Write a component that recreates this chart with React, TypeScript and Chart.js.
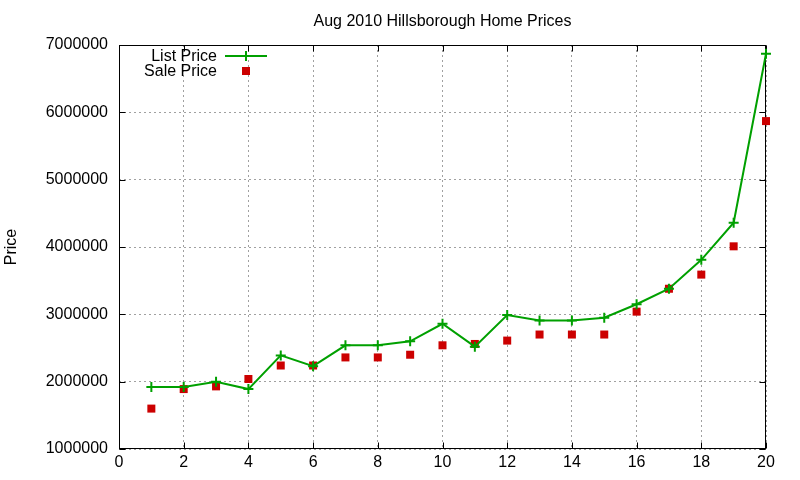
import { useEffect, useRef } from "react";
import { Chart, registerables } from "chart.js";

Chart.register(...registerables);

const chartTitle = "Aug 2010 Hillsborough Home Prices";
const yAxisTitle = "Price";
const xValues = [1, 2, 3, 4, 5, 6, 7, 8, 9, 10, 11, 12, 13, 14, 15, 16, 17, 18, 19, 20];
const listPrice = [
  1920000, 1920000, 2000000, 1890000, 2390000, 2230000, 2540000, 2540000, 2600000, 2860000,
  2520000, 2990000, 2910000, 2910000, 2950000, 3150000, 3380000, 3810000, 4360000, 6870000,
];
const salePrice = [
  1600000, 1890000, 1930000, 2040000, 2240000, 2240000, 2360000, 2360000, 2400000, 2540000,
  2560000, 2610000, 2700000, 2700000, 2700000, 3040000, 3380000, 3590000, 4010000, 5870000,
];
const xMin = 0;
const xMax = 20;
const xStep = 2;
const yMin = 1000000;
const yMax = 7000000;
const yStep = 1000000;

const FONT = "'Liberation Sans', Arial, sans-serif";
const GREEN = "#00a000";
const RED = "#cc0000";

const framePlugin = {
  id: "frame",
  beforeDatasetsDraw(chart: any) {
    const { ctx, chartArea, scales } = chart;
    const L = Math.round(chartArea.left) + 0.5;
    const R = Math.round(chartArea.right) - 0.5;
    const T = Math.round(chartArea.top) + 0.5;
    const B = Math.round(chartArea.bottom) - 0.5;
    ctx.save();
    ctx.setLineDash([]);
    ctx.strokeStyle = "#000";
    ctx.lineWidth = 1;
    ctx.strokeRect(L, T, R - L, B - T);
    const tl = 6;
    ctx.beginPath();
    scales.x.ticks.forEach((t: any) => {
      const px = Math.round(scales.x.getPixelForValue(t.value)) + 0.5;
      ctx.moveTo(px, B);
      ctx.lineTo(px, B - tl);
      ctx.moveTo(px, T);
      ctx.lineTo(px, T + tl);
    });
    scales.y.ticks.forEach((t: any) => {
      const py = Math.round(scales.y.getPixelForValue(t.value)) + 0.5;
      ctx.moveTo(L, py);
      ctx.lineTo(L + tl, py);
      ctx.moveTo(R, py);
      ctx.lineTo(R - tl, py);
    });
    ctx.stroke();
    ctx.restore();
  },
};

const keyPlugin = {
  id: "gnukey",
  afterDatasetsDraw(chart: any) {
    const { ctx } = chart;
    const ds = chart.data.datasets;
    const textRight = 217;
    const sx0 = 225;
    const sx1 = 267;
    const sxm = 246;
    const rows = [56, 71];
    ctx.save();
    ctx.font = `16px ${FONT}`;
    ctx.fillStyle = "#000";
    ctx.textAlign = "right";
    ctx.textBaseline = "middle";
    ds.forEach((d: any, i: number) => {
      ctx.fillText(d.label, textRight, rows[i] + 1);
    });
    ctx.strokeStyle = GREEN;
    ctx.lineWidth = 2;
    ctx.beginPath();
    ctx.moveTo(sx0, rows[0]);
    ctx.lineTo(sx1, rows[0]);
    ctx.moveTo(sxm, rows[0] - 5);
    ctx.lineTo(sxm, rows[0] + 5);
    ctx.stroke();
    ctx.fillStyle = RED;
    ctx.fillRect(sxm - 4, rows[1] - 4, 8, 8);
    ctx.restore();
  },
};

export default function App() {
  const canvasRef = useRef<HTMLCanvasElement | null>(null);

  useEffect(() => {
    const canvas = canvasRef.current;
    if (!canvas) return;
    const chart = new Chart(canvas, {
      type: "line",
      data: {
        datasets: [
          {
            label: "List Price",
            data: xValues.map((x, i) => ({ x, y: listPrice[i] })),
            borderColor: GREEN,
            backgroundColor: GREEN,
            borderWidth: 2,
            tension: 0,
            pointStyle: "cross",
            pointRadius: 5,
            pointBorderWidth: 2,
            pointBorderColor: GREEN,
            clip: false as any,
          },
          {
            label: "Sale Price",
            data: xValues.map((x, i) => ({ x, y: salePrice[i] })),
            showLine: false,
            borderColor: RED,
            backgroundColor: RED,
            pointStyle: "rect",
            pointRadius: 5.66,
            pointBorderWidth: 0,
            borderWidth: 0,
            clip: false as any,
          },
        ],
      },
      options: {
        responsive: false,
        animation: false,
        devicePixelRatio: 1,
        layout: { padding: { top: 0, right: 34, bottom: 0, left: 0 } },
        plugins: {
          legend: { display: false },
          tooltip: { enabled: false },
          title: {
            display: true,
            text: chartTitle,
            fullSize: false,
            color: "#000",
            font: { family: FONT, size: 16, weight: "normal", lineHeight: "20px" as any },
            padding: { top: 12, bottom: 13 },
          },
        },
        scales: {
          x: {
            type: "linear",
            min: xMin,
            max: xMax,
            ticks: {
              stepSize: xStep,
              color: "#000",
              padding: 4,
              maxRotation: 0,
              font: { family: FONT, size: 16 },
            },
            grid: { color: "#a0a0a0", lineWidth: 1, drawTicks: false },
            border: { display: false, dash: [2, 3] },
            afterFit: (s: any) => {
              s.height = 31;
            },
          },
          y: {
            type: "linear",
            min: yMin,
            max: yMax,
            ticks: {
              stepSize: yStep,
              color: "#000",
              padding: 11,
              font: { family: FONT, size: 16 },
              callback: (v: any) => String(v),
            },
            grid: { color: "#a0a0a0", lineWidth: 1, drawTicks: false },
            border: { display: false, dash: [2, 3] },
            title: {
              display: true,
              text: yAxisTitle,
              color: "#000",
              font: { family: FONT, size: 16 },
              padding: { top: 2, bottom: 0 },
            },
            afterFit: (s: any) => {
              s.width = 119;
            },
          },
        },
      },
      plugins: [framePlugin, keyPlugin],
    });
    return () => chart.destroy();
  }, []);

  return (
    <div style={{ position: "absolute", left: 0, top: 0, width: 800, height: 480, background: "#fff" }}>
      <canvas ref={canvasRef} width={800} height={480} style={{ display: "block" }} />
    </div>
  );
}
